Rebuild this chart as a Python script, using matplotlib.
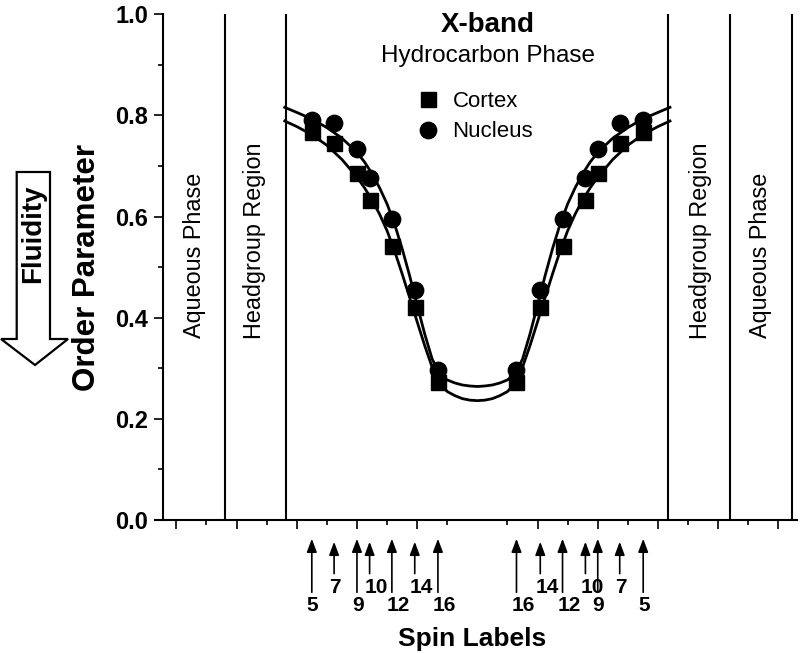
import matplotlib
matplotlib.use('Agg')
import matplotlib.pyplot as plt
import matplotlib.transforms as mtransforms
from matplotlib.patches import Polygon

plt.rcParams['font.family'] = ['Liberation Sans', 'DejaVu Sans']

# spin label positions across the bilayer (distance from centre, in tick units)
spin_x = [-5.50, -4.76, -4.00, -3.58, -2.84, -2.08, -1.31,
          1.30, 2.09, 2.83, 3.59, 4.00, 4.73, 5.51]
spin_labels = [5, 7, 9, 10, 12, 14, 16, 16, 14, 12, 10, 9, 7, 5]

# order parameters
cortex = [0.767, 0.746, 0.687, 0.632, 0.541, 0.421, 0.273,
          0.273, 0.421, 0.541, 0.632, 0.687, 0.746, 0.767]
nucleus = [0.791, 0.786, 0.733, 0.677, 0.595, 0.455, 0.296,
           0.297, 0.455, 0.595, 0.677, 0.733, 0.786, 0.790]

# fitted curves
fit_x = [-6.4, -6.0, -5.5, -5.0, -4.5, -4.0, -3.75, -3.5, -3.25, -3.0, -2.75,
         -2.5, -2.25, -2.0, -1.75, -1.5, -1.25, -1.0, -0.75, -0.5, -0.25, 0.0,
         0.25, 0.5, 0.75, 1.0, 1.25, 1.5, 1.75, 2.0, 2.25, 2.5, 2.75, 3.0,
         3.25, 3.5, 3.75, 4.0, 4.5, 5.0, 5.5, 6.0, 6.4]
fit_nucleus = [0.816, 0.806, 0.793, 0.776, 0.755, 0.727, 0.708, 0.685, 0.657,
               0.625, 0.585, 0.537, 0.483, 0.425, 0.368, 0.318, 0.289, 0.277,
               0.271, 0.267, 0.265, 0.264, 0.265, 0.267, 0.271, 0.277, 0.289,
               0.318, 0.368, 0.425, 0.483, 0.537, 0.585, 0.625, 0.657, 0.685,
               0.708, 0.727, 0.755, 0.776, 0.793, 0.806, 0.816]
fit_cortex = [0.789, 0.778, 0.762, 0.741, 0.713, 0.678, 0.657, 0.633, 0.605,
              0.572, 0.532, 0.487, 0.440, 0.392, 0.345, 0.302, 0.270, 0.254,
              0.246, 0.240, 0.237, 0.236, 0.237, 0.240, 0.246, 0.254, 0.270,
              0.302, 0.345, 0.392, 0.440, 0.487, 0.532, 0.572, 0.605, 0.633,
              0.657, 0.678, 0.713, 0.741, 0.762, 0.778, 0.789]

# region dividers and names
boundaries = [-8.4, -6.35, 6.35, 8.4, 10.44]
region_names = ['Aqueous Phase', 'Headgroup Region', 'Headgroup Region', 'Aqueous Phase']
region_x = [-9.4, -7.4, 7.4, 9.4]

W, H = 800, 653
fig = plt.figure(figsize=(W / 100, H / 100), dpi=100)
ax = fig.add_axes([155 / W, 133 / H, 642 / W, 505.7 / H])

ax.plot(fit_x, fit_nucleus, color='black', lw=2.0, zorder=2)
ax.plot(fit_x, fit_cortex, color='black', lw=2.0, zorder=2)
ax.plot(spin_x, cortex, 's', color='black', ms=10.8, label='Cortex', zorder=3)
ax.plot(spin_x, nucleus, 'o', color='black', ms=11.8, label='Nucleus', zorder=3)

ax.vlines(boundaries, 0, 1.0, color='black', lw=1.5)

ax.set_xlim(-10.71, 10.62)
ax.set_ylim(0, 1.0)

for side in ['top', 'right']:
    ax.spines[side].set_visible(False)
ax.spines['left'].set_position(('data', -10.44))
ax.spines['left'].set_linewidth(1.5)
ax.spines['bottom'].set_linewidth(1.5)

ax.set_yticks([0.0, 0.2, 0.4, 0.6, 0.8, 1.0])
ax.set_yticks([0.1, 0.3, 0.5, 0.7, 0.9], minor=True)
ax.set_yticklabels(['0.0', '0.2', '0.4', '0.6', '0.8', '1.0'],
                   fontsize=17, fontweight='bold')
ax.set_xticks([-10, -8, -6, -4, -2, 2, 4, 6, 8, 10])
ax.set_xticks([-9, -7, -5, -3, -1, 1, 3, 5, 7, 9], minor=True)
ax.set_xticklabels([])
ax.tick_params(which='major', direction='out', length=6.7, width=1.2, pad=4)
ax.tick_params(which='minor', direction='out', length=3.3, width=1.2)

ax.set_ylabel('Order Parameter', fontsize=22.5, fontweight='bold')
ax.yaxis.set_label_coords(-0.083, 0.5)
ax.set_xlabel('Spin Labels', fontsize=19, fontweight='bold', va='top')
ax.xaxis.set_label_coords(0.4935, -0.212)

# titles and region names
ax.text(0.33, 0.9656, 'X-band', fontsize=20, fontweight='bold', ha='center', va='baseline')
ax.text(0.35, 0.9066, 'Hydrocarbon Phase', fontsize=17.5, ha='center', va='baseline')
for name, rx in zip(region_names, region_x):
    ry = 0.553 if name.startswith('Head') else 0.524
    ax.text(rx, ry, name, fontsize=16.8, rotation=90, ha='center', va='center')

ax.legend(loc='upper left', bbox_to_anchor=(0.408, 0.848), frameon=False,
          fontsize=16, handlelength=1.0, handletextpad=0.6, labelspacing=0.42,
          borderpad=0, borderaxespad=0)

# arrows marking the spin label positions
xtrans = ax.get_xaxis_transform()
txt_trans = mtransforms.offset_copy(xtrans, fig=fig, x=-5, y=0, units='dots')
for sx, lab in zip(spin_x, spin_labels):
    short = lab in (7, 10, 14)
    tip = -0.043 if short else -0.037
    tail = -0.106 if short else -0.143
    ax.annotate('', xy=(sx, tip), xytext=(sx, tail), xycoords=xtrans,
                arrowprops=dict(arrowstyle='-|>,head_length=0.8,head_width=0.3',
                                color='black', lw=1.2, mutation_scale=10,
                                shrinkA=0, shrinkB=0),
                annotation_clip=False)
    ax.text(sx, -0.133 if short else -0.170, str(lab), transform=txt_trans,
            fontsize=15, fontweight='bold', ha='left', va='center')

# big "Fluidity" arrow on the far left
arrow_pts = [(16.7, 172), (50, 172), (50, 339), (68, 339), (35, 365), (1, 339), (16.7, 339)]
arrow_pts = [(x, H - y) for x, y in arrow_pts]
fig.patches.append(Polygon(arrow_pts, closed=True, facecolor='white', edgecolor='black',
                           lw=1.6, transform=mtransforms.IdentityTransform(), figure=fig))
fig.text(33.5 / W, 1 - 234 / H, 'Fluidity', fontsize=20, fontweight='bold',
         rotation=90, ha='center', va='center')

fig.savefig('out.png', dpi=100)
